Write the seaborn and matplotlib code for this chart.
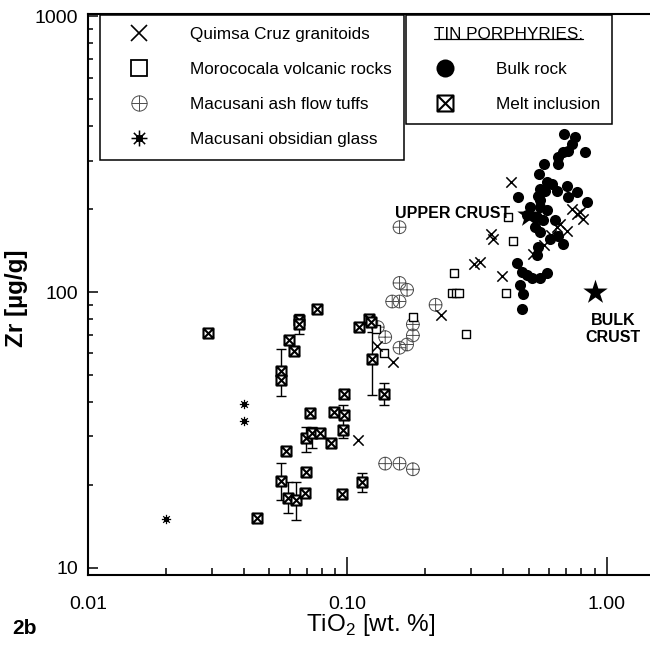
import numpy as np
import pandas as pd
import matplotlib
matplotlib.use('Agg')
import matplotlib.pyplot as plt
from matplotlib.path import Path
from matplotlib.lines import Line2D
from matplotlib.ticker import FixedLocator, FuncFormatter, LogLocator, NullFormatter
import seaborn as sns

# Quimsa Cruz granitoids
qc_tio2 = [0.427, 0.357, 0.365, 0.307, 0.326, 0.395, 0.230, 0.130, 0.150, 0.110,
           0.519, 0.573, 0.641, 0.661, 0.702, 0.733, 0.767, 0.813, 0.612, 0.787]
qc_zr = [250, 163, 156, 127, 129, 114, 83, 64, 56, 29,
         138, 148, 172, 177, 167, 200, 192, 184, 161, 195]

# Morococala volcanic rocks
mv_tio2 = [0.129, 0.139, 0.179, 0.259, 0.254, 0.262, 0.269, 0.288, 0.408, 0.436, 0.417]
mv_zr = [73.6, 60.3, 81.4, 117, 99, 99, 99, 70.4, 99.5, 153, 187]

# Macusani ash flow tuffs
mt_tio2 = [0.159, 0.159, 0.170, 0.149, 0.159, 0.219, 0.179, 0.179, 0.140, 0.131,
           0.170, 0.159, 0.140, 0.159, 0.179]
mt_zr = [172, 108, 102, 92.5, 92.5, 90, 76.4, 69.7, 68.7, 74.7,
         64.6, 62.9, 23.9, 23.9, 22.8]

# Macusani obsidian glass
mo_tio2 = [0.020, 0.040, 0.040]
mo_zr = [15.0, 39.2, 34.1]

# tin porphyries - bulk rock
br_tio2 = [0.685, 0.756, 0.734, 0.681, 0.651, 0.708, 0.826, 0.573, 0.651, 0.550,
           0.587, 0.553, 0.545, 0.578, 0.614, 0.642, 0.701, 0.767, 0.712, 0.838,
           0.456, 0.506, 0.553, 0.587, 0.537, 0.570, 0.529, 0.553, 0.605, 0.651,
           0.681, 0.545, 0.537, 0.450, 0.470, 0.491, 0.514, 0.553, 0.587, 0.463,
           0.477, 0.470, 0.632, 0.491, 0.553]
br_zr = [374, 364, 344, 321, 308, 326, 321, 291, 291, 268,
         250, 237, 224, 233, 247, 233, 243, 230, 221, 212,
         222, 203, 203, 198, 187, 182, 172, 165, 156, 160,
         150, 146, 136, 128, 118, 115, 113, 113, 117, 106,
         98.6, 87.1, 182, 190, 215]

# tin porphyries - melt inclusions
mi_tio2 = [0.029, 0.045, 0.0555, 0.0555, 0.0556, 0.0582, 0.0588, 0.0598, 0.0624, 0.0634,
           0.0653, 0.0653, 0.0716, 0.0694, 0.0689, 0.0692, 0.0731, 0.0763, 0.0785, 0.0866,
           0.0885, 0.0953, 0.0967, 0.0960, 0.0975, 0.111, 0.114, 0.121, 0.123, 0.124, 0.139]
mi_zr = [71, 15.2, 52, 48, 20.7, 26.6, 18.0, 67, 61, 17.6,
         79, 76.6, 36.5, 29.6, 18.7, 22.3, 30.9, 87, 30.8, 28.3,
         36.8, 18.6, 35.8, 31.7, 42.6, 74.7, 20.5, 80, 78, 57.4, 42.9]

# error bar ranges on some melt inclusions
err_tio2 = [0.0555, 0.0556, 0.0588, 0.0634, 0.0653, 0.0694, 0.0731, 0.0966, 0.139, 0.124, 0.114]
err_lo = [42.0, 17.6, 15.8, 14.9, 70.4, 26.4, 27.2, 29.6, 38.9, 42.3, 18.9]
err_hi = [62.4, 24.0, 20.5, 20.5, 83.2, 32.5, 32.5, 38.9, 46.8, 71.6, 22.1]

# crust reference values
crust_names = ['UPPER CRUST', 'BULK\nCRUST']
crust_tio2 = [0.5, 0.9]
crust_zr = [190, 100]

sns.set_style('ticks')
plt.rcParams['font.family'] = ['Liberation Sans', 'DejaVu Sans']
plt.rcParams['mathtext.fontset'] = 'custom'
plt.rcParams['mathtext.rm'] = 'Liberation Sans'
plt.rcParams['text.color'] = 'black'
plt.rcParams['axes.labelcolor'] = 'black'
plt.rcParams['xtick.color'] = 'black'
plt.rcParams['ytick.color'] = 'black'

# custom markers
plus_circle = Path.make_compound_path(Path.unit_circle(),
                                      Path([[-1, 0], [1, 0]]), Path([[0, -1], [0, 1]]))
sq = Path([[-1, -1], [1, -1], [1, 1], [-1, 1], [-1, -1]],
          [Path.MOVETO, Path.LINETO, Path.LINETO, Path.LINETO, Path.CLOSEPOLY])
box_x = Path.make_compound_path(sq, Path([[-1, -1], [1, 1]]), Path([[-1, 1], [1, -1]]))
ang = np.deg2rad([0, 45, 90, 135])
rays = [Path([[np.cos(a), np.sin(a)], [-np.cos(a), -np.sin(a)]]) for a in ang]
core = Path([[-.3, -.3], [.3, -.3], [.3, .3], [-.3, .3], [-.3, -.3]],
            [Path.MOVETO, Path.LINETO, Path.LINETO, Path.LINETO, Path.CLOSEPOLY])
aster = Path.make_compound_path(*rays, core)

fig = plt.figure(figsize=(6.5, 6.46), dpi=100)
ax = fig.add_axes([0.1354, 0.1099, 0.8646, 0.8684])
ax.set_xscale('log')
ax.set_yscale('log')

ax.errorbar(err_tio2, err_lo, yerr=[np.zeros(len(err_lo)), np.array(err_hi) - np.array(err_lo)],
            fmt='none', ecolor='black', elinewidth=1, capsize=3.5, capthick=1, zorder=2)

sns.scatterplot(x=mt_tio2, y=mt_zr, marker=plus_circle, s=85, facecolor='none',
                edgecolor='0.3', linewidth=0.7, ax=ax, zorder=3)
sns.scatterplot(x=mv_tio2, y=mv_zr, marker='s', s=36, facecolor='white',
                edgecolor='black', linewidth=1.0, ax=ax, zorder=3)
sns.scatterplot(x=br_tio2, y=br_zr, marker='o', s=64, color='black',
                edgecolor='black', linewidth=0, ax=ax, zorder=4)
sns.scatterplot(x=mi_tio2, y=mi_zr, marker=box_x, s=52, facecolor='white',
                edgecolor='black', linewidth=1.5, ax=ax, zorder=4)
sns.scatterplot(x=qc_tio2, y=qc_zr, marker='x', s=55, color='black',
                linewidth=1.1, ax=ax, zorder=5)
sns.scatterplot(x=mo_tio2, y=mo_zr, marker=aster, s=45, facecolor='black',
                edgecolor='black', linewidth=0.9, ax=ax, zorder=5)
sns.scatterplot(x=crust_tio2, y=crust_zr, marker='*', s=340, color='black',
                edgecolor='black', linewidth=0, ax=ax, zorder=6)

ax.annotate(crust_names[0], (crust_tio2[0], crust_zr[0]), xytext=(-13, 1),
            textcoords='offset points', ha='right', va='center',
            fontsize=11.5, fontweight='bold')
ax.annotate(crust_names[1], (crust_tio2[1], crust_zr[1]), xytext=(13, -15),
            textcoords='offset points', ha='center', va='top',
            fontsize=11.5, fontweight='bold', multialignment='center')

ax.set_xlim(0.01, 1.47)
ax.set_ylim(9.43, 1020)

ax.xaxis.set_major_locator(FixedLocator([0.01, 0.1, 1.0]))
ax.xaxis.set_major_formatter(FuncFormatter(lambda v, p: f'{v:.2f}'))
ax.xaxis.set_minor_locator(LogLocator(base=10, subs=np.arange(2, 10)))
ax.xaxis.set_minor_formatter(NullFormatter())
ax.yaxis.set_major_locator(FixedLocator([10, 100, 1000]))
ax.yaxis.set_major_formatter(FuncFormatter(lambda v, p: f'{v:.0f}'))
ax.yaxis.set_minor_locator(LogLocator(base=10, subs=np.arange(2, 10)))
ax.yaxis.set_minor_formatter(NullFormatter())

ax.tick_params(which='both', direction='in', top=False, right=False, colors='black', width=1.1)
ax.tick_params(axis='x', which='major', length=13, pad=15, labelsize=14)
ax.tick_params(axis='x', which='minor', length=5)
ax.tick_params(axis='y', which='major', length=7, pad=7, labelsize=14)
ax.tick_params(axis='y', which='minor', length=3.5)

for side in ['left', 'bottom', 'top']:
    ax.spines[side].set_linewidth(1.5)
    ax.spines[side].set_color('black')
ax.spines['right'].set_visible(False)

ax.set_xlabel('TiO$_2$ [wt. %]', fontsize=17.5)
ax.xaxis.set_label_coords(0.503, -0.066)
ax.set_ylabel('Zr [µg/g]', fontsize=17.5, fontweight='bold')
ax.yaxis.set_label_coords(-0.107, 0.494)

fig.text(12 / 650, 1 - 629 / 646, '2b', fontsize=15, fontweight='bold', ha='left', va='center')

# legends
h1 = [Line2D([], [], ls='none', marker='x', ms=11.5, mew=1.2, color='black'),
      Line2D([], [], ls='none', marker='s', ms=12, mew=1.3, mfc='white', mec='black'),
      Line2D([], [], ls='none', marker=plus_circle, ms=11, mew=0.7, mfc='none', mec='0.3'),
      Line2D([], [], ls='none', marker=aster, ms=11.5, mew=1.1, mfc='black', mec='black')]
l1 = ['Quimsa Cruz granitoids', 'Morococala volcanic rocks',
      'Macusani ash flow tuffs', 'Macusani obsidian glass']
h2 = [Line2D([], [], ls='none', marker='o', ms=13, mew=0, color='black'),
      Line2D([], [], ls='none', marker=box_x, ms=11.5, mew=1.5, mfc='white', mec='black')]
l2 = ['Bulk rock', 'Melt inclusion']

common = dict(loc='upper left', borderaxespad=0, fontsize=12.3, frameon=True, fancybox=False,
              framealpha=1, edgecolor='black', handlelength=3.2, handletextpad=1.36,
              borderpad=0.72, labelspacing=1.18)
leg1 = ax.legend(h1, l1, bbox_to_anchor=(99.5 / 650, 1 - 14.5 / 646),
                 bbox_transform=fig.transFigure, **common)
leg1.get_frame().set_linewidth(1.1)
ax.add_artist(leg1)
leg2 = ax.legend(h2, l2, bbox_to_anchor=(405.5 / 650, 1 - 14.5 / 646),
                 bbox_transform=fig.transFigure, title='TIN PORPHYRIES:',
                 title_fontsize=12.3, **common)
leg2.get_frame().set_linewidth(1.1)
leg1.set_zorder(10)
leg2.set_zorder(10)

fig.canvas.draw()
bb = leg2.get_title().get_window_extent(fig.canvas.get_renderer())
inv = fig.transFigure.inverted()
(x0, y0), (x1, _) = inv.transform([[bb.x0, bb.y0 + 2.5], [bb.x1, bb.y0]])
fig.add_artist(Line2D([x0, x1], [y0, y0], transform=fig.transFigure, color='black', lw=0.9, zorder=11))

fig.savefig('out.png', dpi=100)
